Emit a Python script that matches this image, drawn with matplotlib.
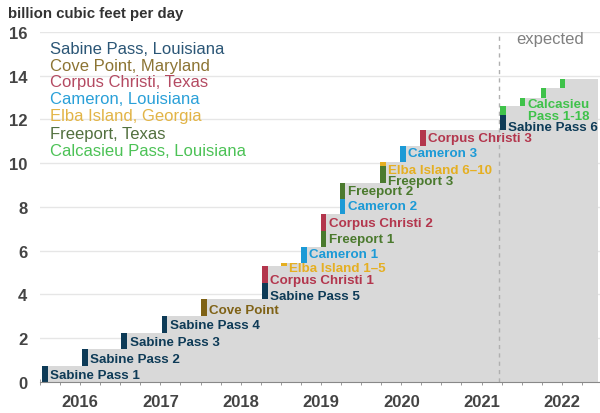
import numpy as np
import matplotlib
matplotlib.use('Agg')
import matplotlib.pyplot as plt

plt.rcParams['font.family'] = ['Liberation Sans', 'DejaVu Sans']

# Данные: мощности СПГ-терминалов США (млрд куб. футов в сутки)
projects = ['Sabine Pass 1', 'Sabine Pass 2', 'Sabine Pass 3', 'Sabine Pass 4',
            'Cove Point', 'Sabine Pass 5', 'Corpus Christi 1', 'Elba Island 1–5',
            'Cameron 1', 'Freeport 1', 'Corpus Christi 2', 'Cameron 2', 'Freeport 2',
            'Freeport 3', 'Elba Island 6–10', 'Cameron 3', 'Corpus Christi 3',
            'Sabine Pass 6', 'Calcasieu', 'Calcasieu', 'Calcasieu', 'Calcasieu']
terminal = ['Sabine Pass', 'Sabine Pass', 'Sabine Pass', 'Sabine Pass',
            'Cove Point', 'Sabine Pass', 'Corpus Christi', 'Elba Island',
            'Cameron', 'Freeport', 'Corpus Christi', 'Cameron', 'Freeport',
            'Freeport', 'Elba Island', 'Cameron', 'Corpus Christi',
            'Sabine Pass', 'Calcasieu Pass', 'Calcasieu Pass', 'Calcasieu Pass', 'Calcasieu Pass']
online = [2016.06, 2016.56, 2017.05, 2017.55,
          2018.04, 2018.80, 2018.80, 2019.04,
          2019.29, 2019.53, 2019.53, 2019.77, 2019.77,
          2020.27, 2020.27, 2020.52, 2020.77,
          2021.77, 2021.77, 2022.01, 2022.27, 2022.51]
added = [0.73, 0.75, 0.77, 0.75,
         0.78, 0.75, 0.75, 0.15,
         0.75, 0.72, 0.78, 0.67, 0.75,
         0.75, 0.20, 0.75, 0.72,
         0.70, 0.38, 0.40, 0.45, 0.40]
bar_labels = ['Sabine Pass 1', 'Sabine Pass 2', 'Sabine Pass 3', 'Sabine Pass 4',
              'Cove Point', 'Sabine Pass 5', 'Corpus Christi 1', 'Elba Island 1–5',
              'Cameron 1', 'Freeport 1', 'Corpus Christi 2', 'Cameron 2', 'Freeport 2',
              'Freeport 3', 'Elba Island 6–10', 'Cameron 3', 'Corpus Christi 3',
              'Sabine Pass 6', '', 'Calcasieu\nPass 1-18', '', '']
label_dy = [-0.07, -0.05, -0.07, -0.03,
            -0.09, -0.25, -0.25, -0.15,
            0.05, 0.0, -0.04, 0.03, -0.02,
            -0.27, -0.25, 0.02, 0.0,
            -0.22, 0, -0.35, 0, 0]

legend_names = ['Sabine Pass, Louisiana', 'Cove Point, Maryland', 'Corpus Christi, Texas',
                'Cameron, Louisiana', 'Elba Island, Georgia', 'Freeport, Texas',
                'Calcasieu Pass, Louisiana']
legend_keys = ['Sabine Pass', 'Cove Point', 'Corpus Christi', 'Cameron',
               'Elba Island', 'Freeport', 'Calcasieu Pass']

colors = {
    'Sabine Pass': '#0e3b57',
    'Cove Point': '#7f6216',
    'Corpus Christi': '#b3364d',
    'Cameron': '#1c9ad6',
    'Elba Island': '#e5af22',
    'Freeport': '#4b7a2e',
    'Calcasieu Pass': '#3fc24a',
}
legend_colors = {
    'Sabine Pass': '#2b5676',
    'Cove Point': '#8c7433',
    'Corpus Christi': '#b44a62',
    'Cameron': '#2aa0d8',
    'Elba Island': '#e2b446',
    'Freeport': '#52703f',
    'Calcasieu Pass': '#4cc256',
}

expected_from = 2021.72
years = [2016, 2017, 2018, 2019, 2020, 2021, 2022]

BAR_W = 0.07
XMAX = 2022.95

fig = plt.figure(figsize=(6, 4.14), dpi=100)
ax = fig.add_axes([40 / 600, 31.3 / 414, 562 / 600, 349.7 / 414])

added = np.array(added)
tops = np.cumsum(added)
bottoms = tops - added

# Серая ступенчатая заливка
xs = [d - BAR_W / 2 for d in online] + [XMAX]
ys = list(tops) + [tops[-1]]
ax.fill_between(xs, ys, step='post', color='#d9d9d9', lw=0, zorder=1)

# Цветные столбики и подписи
for i, d in enumerate(online):
    c = colors[terminal[i]]
    ax.bar(d, added[i], bottom=bottoms[i], width=BAR_W, color=c, lw=0, zorder=3)
    if bar_labels[i]:
        ax.text(d + BAR_W / 2 + 0.03, (bottoms[i] + tops[i]) / 2 + label_dy[i],
                bar_labels[i], color=c, fontsize=9.6, fontweight='bold',
                ha='left', va='center', linespacing=1.0, zorder=4, clip_on=False)

# Легенда текстом
for k, (name, key) in enumerate(zip(legend_names, legend_keys)):
    fig.text(50 / 600, 1 - (49 + k * 17) / 414, name, color=legend_colors[key],
             fontsize=12, ha='left', va='center')

ax.axvline(expected_from, color='#b0b0b0', ls=(0, (3, 3)), lw=1, zorder=2)
ax.text(2022.35, 15.7, 'expected', color='#808080', fontsize=12,
        ha='center', va='center')

ax.set_xlim(2016, XMAX)
ax.set_ylim(0, 16)
ax.set_yticks(range(0, 17, 2))
ax.grid(axis='y', color='#e6e6e6', lw=1, zorder=0)
ax.set_axisbelow(True)

# Подписи годов по центру, засечки поквартально
ax.xaxis.remove_overlapping_locs = False
ax.set_xticks([y + 0.5 for y in years])
ax.set_xticklabels([str(y) for y in years])
ax.set_xticks(np.arange(2016, 2023.01, 0.25), minor=True)
ax.tick_params(axis='x', which='minor', direction='inout', length=5, color='#888888')
ax.tick_params(axis='x', which='major', length=0, pad=9, labelsize=12,
               labelcolor='#444444')
ax.tick_params(axis='y', length=0, pad=9, labelsize=12, labelcolor='#444444')
for lab in ax.get_xticklabels() + ax.get_yticklabels():
    lab.set_fontweight('bold')

for s in ['top', 'right', 'left']:
    ax.spines[s].set_visible(False)
ax.spines['bottom'].set_color('#888888')
ax.spines['bottom'].set_zorder(5)

fig.text(8 / 600, 1 - 14 / 414, 'billion cubic feet per day', fontsize=10.8,
         fontweight='bold', color='#333333', ha='left', va='center')

fig.savefig('out.png', dpi=100)
